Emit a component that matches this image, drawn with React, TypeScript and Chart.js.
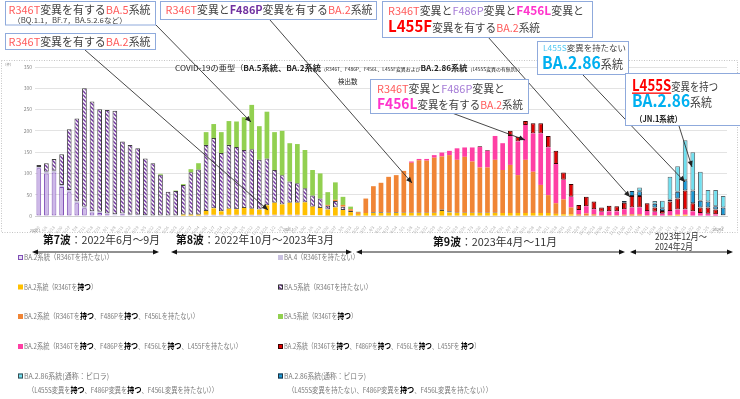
import React, { useEffect, useRef } from "react";
import { Chart, registerables } from "chart.js";
Chart.register(...registerables);

// ---- week labels (x axis) ----
const weekLabels = [
  "5/30", "6/6", "6/13", "6/20", "6/27", "7/4", "7/11", "7/18", "7/25", "8/1",
  "8/8", "8/15", "8/22", "8/29", "9/5", "9/12", "9/19", "9/26", "10/3", "10/10",
  "10/17", "10/24", "10/31", "11/7", "11/14", "11/21", "11/28", "12/5", "12/12", "12/19",
  "12/26", "1/2", "1/9", "1/16", "1/23", "1/30", "2/6", "2/13", "2/20", "2/27",
  "3/6", "3/13", "3/20", "3/27", "4/3", "4/10", "4/17", "4/24", "5/1", "5/8",
  "5/15", "5/22", "5/29", "6/5", "6/12", "6/19", "6/26", "7/3", "7/10", "7/17",
  "7/24", "7/31", "8/7", "8/14", "8/21", "8/28", "9/4", "9/11", "9/18", "9/25",
  "10/2", "10/9", "10/16", "10/23", "10/30", "11/6", "11/13", "11/20", "11/27", "12/4",
  "12/11", "12/18", "12/25", "1/1", "1/8", "1/15", "1/22", "1/29", "2/5", "2/12",
  "2/19",
];

// ---- series values (weekly detections) ----
const ba2NoR346T = [
  112, 100, 102, 68, 56, 30, 18, 8, 7, 4,
  2, 4, 2, 2, 1, 1, 1, 1, 1, 1,
  1, 1, 3, 3, 3, 3, 3, 3, 3, 3,
  3, 3, 3, 3, 3, 2, 2, 2, 1, 1,
  1, 0, 0, 0, 0, 0, 0, 0, 0, 0,
  0, 0, 0, 0, 0, 0, 0, 0, 0, 0,
  0, 0, 0, 0, 0, 0, 0, 0, 0, 0,
  0, 0, 0, 0, 0, 0, 0, 0, 0, 0,
  0, 0, 0, 0, 0, 0, 0, 0, 0, 0,
  0,
];
const ba4 = [
  3, 4, 4, 5, 5, 4, 4, 3, 3, 2,
  2, 2, 1, 1, 1, 0, 0, 0, 0, 0,
  0, 0, 0, 0, 0, 0, 0, 0, 0, 0,
  0, 0, 0, 0, 0, 0, 0, 0, 0, 0,
  0, 0, 0, 0, 0, 0, 0, 0, 0, 0,
  0, 0, 0, 0, 0, 0, 0, 0, 0, 0,
  0, 0, 0, 0, 0, 0, 0, 0, 0, 0,
  0, 0, 0, 0, 0, 0, 0, 0, 0, 0,
  0, 0, 0, 0, 0, 0, 0, 0, 0, 0,
  0,
];
const ba2R346T = [
  0, 0, 0, 0, 0, 0, 0, 0, 0, 0,
  0, 0, 0, 0, 0, 0, 0, 0, 0, 2,
  2, 2, 9, 15, 8, 14, 13, 16, 14, 12,
  22, 28, 24, 28, 28, 30, 20, 17, 14, 19,
  13, 9, 5, 7, 7, 7, 7, 7, 7, 7,
  7, 7, 7, 12, 8, 7, 7, 7, 7, 7,
  7, 7, 7, 7, 7, 7, 7, 7, 5, 4,
  4, 1, 1, 1, 0, 0, 0, 0, 0, 0,
  0, 0, 0, 0, 3, 3, 1, 0, 0, 0,
  0,
];
const ba5NoR346T = [
  5, 20, 28, 72, 143, 195, 278, 258, 241, 243,
  243, 169, 164, 156, 133, 123, 96, 56, 58, 70,
  100, 106, 155, 165, 137, 150, 146, 136, 140, 117,
  110, 77, 69, 50, 46, 33, 26, 22, 9, 15,
  8, 3, 0, 0, 2, 2, 1, 2, 1, 1,
  1, 1, 1, 3, 3, 1, 1, 1, 1, 1,
  1, 0, 0, 0, 0, 0, 0, 0, 0, 0,
  0, 0, 0, 0, 0, 0, 0, 0, 0, 0,
  0, 0, 0, 0, 0, 0, 0, 0, 0, 0,
  0,
];
const ba2F486P = [
  0, 0, 0, 0, 0, 0, 0, 0, 0, 0,
  0, 0, 0, 0, 0, 0, 0, 0, 0, 0,
  0, 0, 0, 0, 0, 0, 0, 0, 0, 0,
  0, 0, 0, 0, 0, 0, 0, 0, 2, 3,
  4, 4, 4, 34, 61, 69, 84, 87, 98, 117,
  123, 122, 129, 125, 132, 124, 131, 120, 106, 106,
  124, 101, 113, 89, 125, 97, 66, 42, 25, 35,
  16, 3, 5, 3, 2, 2, 2, 3, 4, 4,
  2, 2, 1, 2, 0, 0, 0, 0, 0, 0,
  0,
];
const ba5R346T = [
  0, 0, 0, 0, 0, 0, 0, 0, 0, 0,
  0, 0, 0, 0, 0, 0, 2, 0, 1, 2,
  7, 15, 30, 33, 49, 56, 60, 77, 104, 79,
  110, 89, 104, 90, 92, 90, 60, 59, 30, 41,
  19, 6, 1, 0, 0, 0, 0, 0, 0, 0,
  0, 0, 0, 0, 0, 0, 0, 0, 0, 0,
  0, 0, 0, 0, 0, 0, 0, 0, 0, 0,
  0, 0, 0, 0, 0, 0, 0, 0, 0, 0,
  0, 0, 0, 0, 0, 0, 0, 0, 0, 0,
  0,
];
const ba2F456L = [
  0, 0, 0, 0, 0, 0, 0, 0, 0, 0,
  0, 0, 0, 0, 0, 0, 0, 0, 0, 0,
  0, 0, 0, 0, 0, 0, 0, 0, 0, 0,
  0, 0, 0, 0, 0, 0, 0, 0, 0, 0,
  0, 0, 0, 0, 0, 0, 0, 0, 0, 3,
  3, 4, 6, 9, 10, 27, 22, 33, 48, 39,
  56, 63, 68, 79, 82, 90, 121, 112, 92, 46,
  25, 10, 17, 12, 8, 9, 9, 13, 16, 16,
  10, 8, 4, 10, 12, 12, 10, 7, 5, 4,
  0,
];
const ba2L455F = [
  0, 0, 0, 0, 0, 0, 0, 0, 0, 0,
  0, 0, 0, 0, 0, 0, 0, 0, 0, 0,
  0, 0, 0, 0, 0, 0, 0, 0, 0, 0,
  0, 0, 0, 0, 0, 0, 0, 0, 0, 0,
  0, 0, 0, 0, 0, 0, 0, 0, 0, 0,
  0, 0, 0, 0, 0, 0, 0, 0, 2, 2,
  0, 0, 12, 11, 9, 24, 24, 27, 31, 17,
  30, 12, 22, 18, 10, 13, 12, 15, 27, 27,
  18, 10, 7, 22, 26, 45, 19, 13, 15, 11,
  2,
];
const ba286NoL455S = [
  0, 0, 0, 0, 0, 0, 0, 0, 0, 0,
  0, 0, 0, 0, 0, 0, 0, 0, 0, 0,
  0, 0, 0, 0, 0, 0, 0, 0, 0, 0,
  0, 0, 0, 0, 0, 0, 0, 0, 0, 0,
  0, 0, 0, 0, 0, 0, 0, 0, 0, 0,
  0, 0, 0, 0, 0, 0, 0, 0, 0, 0,
  0, 0, 0, 0, 0, 0, 0, 0, 0, 0,
  0, 0, 0, 0, 0, 0, 0, 4, 12, 11,
  0, 9, 6, 4, 16, 24, 30, 16, 14, 8,
  18,
];
const ba286L455S = [
  0, 0, 0, 0, 0, 0, 0, 0, 0, 0,
  0, 0, 0, 0, 0, 0, 0, 0, 0, 0,
  0, 0, 0, 0, 0, 0, 0, 0, 0, 0,
  0, 0, 0, 0, 0, 0, 0, 0, 0, 0,
  0, 0, 0, 0, 0, 0, 0, 0, 0, 0,
  0, 0, 0, 0, 0, 0, 0, 0, 0, 0,
  0, 0, 0, 0, 0, 0, 0, 0, 0, 0,
  0, 0, 0, 0, 0, 0, 0, 0, 0, 9,
  0, 6, 18, 54, 60, 94, 90, 68, 27, 38,
  27,
];

const yTicks = [0, 50, 100, 150, 200, 250, 300, 350];

const FONT = '"Noto Sans CJK JP","Noto Sans",sans-serif';
const SALMON = "#FF5B5B";
const DARK = "#404040";
const PURPLE = "#7030A0";
const LPURPLE = "#A57BD6";
const PINK = "#FF33CC";
const RED = "#FF0000";
const CYAN = "#00B0F0";

type Seg = { t: string; c?: string; s?: number; b?: boolean; u?: boolean };

function drawRich(
  ctx: CanvasRenderingContext2D,
  x: number,
  y: number,
  segs: Seg[],
  size: number,
  color: string,
  width?: number
) {
  ctx.save();
  const ws = segs.map((sg) => {
    ctx.font = `${sg.b ? "bold " : ""}${sg.s ?? size}px ${FONT}`;
    return ctx.measureText(sg.t).width;
  });
  const total = ws.reduce((a, b) => a + b, 0);
  const sx = width ? width / total : 1;
  ctx.translate(x, y);
  ctx.scale(sx, 1);
  ctx.textAlign = "left";
  ctx.textBaseline = "alphabetic";
  let cx = 0;
  segs.forEach((sg, i) => {
    ctx.font = `${sg.b ? "bold " : ""}${sg.s ?? size}px ${FONT}`;
    ctx.fillStyle = sg.c ?? color;
    ctx.fillText(sg.t, cx, 0);
    if (sg.u) ctx.fillRect(cx, 2, ws[i], 1.3);
    cx += ws[i];
  });
  ctx.restore();
}

function arrowLine(ctx: CanvasRenderingContext2D, x1: number, y1: number, x2: number, y2: number) {
  ctx.save();
  ctx.strokeStyle = "#333";
  ctx.fillStyle = "#222";
  ctx.lineWidth = 0.9;
  ctx.beginPath();
  ctx.moveTo(x1, y1);
  ctx.lineTo(x2, y2);
  ctx.stroke();
  const a = Math.atan2(y2 - y1, x2 - x1);
  const L = 6, W = 2.6;
  ctx.beginPath();
  ctx.moveTo(x2, y2);
  ctx.lineTo(x2 - L * Math.cos(a) + W * Math.sin(a), y2 - L * Math.sin(a) - W * Math.cos(a));
  ctx.lineTo(x2 - L * Math.cos(a) - W * Math.sin(a), y2 - L * Math.sin(a) + W * Math.cos(a));
  ctx.closePath();
  ctx.fill();
  ctx.restore();
}

function dblArrow(ctx: CanvasRenderingContext2D, x1: number, x2: number, y: number) {
  ctx.save();
  ctx.strokeStyle = "#222";
  ctx.fillStyle = "#111";
  ctx.lineWidth = 1;
  ctx.beginPath();
  ctx.moveTo(x1 + 3, y);
  ctx.lineTo(x2 - 3, y);
  ctx.stroke();
  ctx.beginPath();
  ctx.moveTo(x1, y);
  ctx.lineTo(x1 + 6, y - 2.6);
  ctx.lineTo(x1 + 6, y + 2.6);
  ctx.closePath();
  ctx.fill();
  ctx.beginPath();
  ctx.moveTo(x2, y);
  ctx.lineTo(x2 - 6, y - 2.6);
  ctx.lineTo(x2 - 6, y + 2.6);
  ctx.closePath();
  ctx.fill();
  ctx.restore();
}

function box(ctx: CanvasRenderingContext2D, x: number, y: number, w: number, h: number) {
  ctx.save();
  ctx.fillStyle = "#fff";
  ctx.fillRect(x, y, w, h);
  ctx.strokeStyle = "#8FAADC";
  ctx.lineWidth = 1;
  ctx.strokeRect(x, y, w, h);
  ctx.restore();
}

const MOTSU: Seg = { t: "持つ", b: true, c: "#000", s: 8.5 };

export default function App() {
  const ref = useRef<HTMLCanvasElement>(null);

  useEffect(() => {
    const canvas = ref.current!;
    const ctx0 = canvas.getContext("2d")!;
    const tile = document.createElement("canvas");
    tile.width = 4;
    tile.height = 4;
    const tg = tile.getContext("2d")!;
    tg.fillStyle = "#fff";
    tg.fillRect(0, 0, 4, 4);
    tg.strokeStyle = PURPLE;
    tg.lineWidth = 1.4;
    tg.beginPath();
    tg.moveTo(-1, -1);
    tg.lineTo(5, 5);
    tg.moveTo(-1, 3);
    tg.lineTo(1, 5);
    tg.moveTo(3, -1);
    tg.lineTo(5, 1);
    tg.stroke();
    const hatch = ctx0.createPattern(tile, "repeat")!;

    const series = [
      { label: "BA.2系統（R346Tを持たない）", data: ba2NoR346T, bg: "#CDB8E8", bc: "#7F4FB5", bw: 1 },
      { label: "BA.4（R346Tを持たない）", data: ba4, bg: "#C9C1E0", bc: "#C9C1E0", bw: 0 },
      { label: "BA.2系統（R346Tを持つ）", data: ba2R346T, bg: "#FFC000", bc: "#FFC000", bw: 0 },
      { label: "BA.5系統（R346Tを持たない）", data: ba5NoR346T, bg: hatch, bc: "#404040", bw: 1 },
      { label: "BA.2系統（R346T・F486Pを持つ）", data: ba2F486P, bg: "#F08536", bc: "#F08536", bw: 0 },
      { label: "BA.5系統（R346Tを持つ）", data: ba5R346T, bg: "#92D050", bc: "#92D050", bw: 0 },
      { label: "BA.2系統（F456Lを持つ）", data: ba2F456L, bg: "#FF3FA4", bc: "#FF3FA4", bw: 0 },
      { label: "BA.2系統（L455Fを持つ）", data: ba2L455F, bg: "#E00000", bc: "#3A0000", bw: 1 },
      { label: "BA.2.86系統（L455Sを持たない）", data: ba286NoL455S, bg: "#1C9AD6", bc: "#1F3040", bw: 1 },
      { label: "BA.2.86系統（L455Sを持つ）", data: ba286L455S, bg: "#6FE0F0", bc: "#5A6A70", bw: 1 },
    ];

    const overlay = {
      id: "overlay",
      afterDraw(chart: any) {
        const ctx: CanvasRenderingContext2D = chart.ctx;
        // dotted frame
        ctx.save();
        ctx.strokeStyle = "#c4c4c4";
        ctx.setLineDash([1, 1.5]);
        ctx.lineWidth = 1;
        ctx.strokeRect(1.5, 60.5, 736, 172);
        ctx.restore();

        // chart title
        drawRich(ctx, 175, 71, [
          { t: "COVID-19の亜型（" },
          { t: "BA.5系統、BA.2系統", b: true },
          { t: "（R346T、F486P、F456L、L455F変異および", s: 4.5 },
          { t: "BA.2.86系統", b: true },
          { t: "（L455S変異の有無別））", s: 4.5 },
        ], 7.5, "#222", 348);
        drawRich(ctx, 338, 84, [{ t: "検出数" }], 6.5, "#222");
        drawRich(ctx, 3, 66, [{ t: "（件）" }], 3.5, "#888");

        // year markers under the x axis
        drawRich(ctx, 30, 232, [{ t: "2022.1" }], 3.5, "#888");
        drawRich(ctx, 283, 231, [{ t: "2023.1" }], 3.5, "#888");
        drawRich(ctx, 713, 231, [{ t: "2024.1" }], 3.5, "#888");

        // callout leader arrows
        arrowLine(ctx, 85, 50, 268, 210);
        arrowLine(ctx, 156, 25, 251, 122);
        arrowLine(ctx, 270, 20, 412, 183);
        arrowLine(ctx, 488, 37, 630, 197);
        arrowLine(ctx, 452, 113, 525, 140);
        arrowLine(ctx, 583, 75, 685, 182);
        arrowLine(ctx, 679, 126, 692, 167);

        // callout boxes
        box(ctx, 5.5, 1.5, 150, 23.5);
        drawRich(ctx, 8.5, 13.5, [
          { t: "R346T", c: SALMON }, { t: "変異を有する" }, { t: "BA.5", c: SALMON }, { t: "系統" },
        ], 11, DARK, 142);
        drawRich(ctx, 13, 22.5, [{ t: "（BQ.1.1，BF.7，BA.5.2.6など）" }], 7, DARK, 114);

        box(ctx, 5.5, 33.5, 150, 16);
        drawRich(ctx, 8.5, 45.5, [
          { t: "R346T", c: SALMON }, { t: "変異を有する" }, { t: "BA.2", c: SALMON }, { t: "系統" },
        ], 11, DARK, 142);

        box(ctx, 160.5, 1.5, 216, 18);
        drawRich(ctx, 165.5, 14, [
          { t: "R346T", c: SALMON }, { t: "変異と" }, { t: "F486P", c: PURPLE, b: true },
          { t: "変異を有する" }, { t: "BA.2", c: SALMON }, { t: "系統" },
        ], 11, DARK, 207);

        box(ctx, 382.5, 1.5, 210, 36);
        drawRich(ctx, 388, 14.5, [
          { t: "R346T", c: SALMON }, { t: "変異と" }, { t: "F486P", c: LPURPLE }, { t: "変異と" },
          { t: "F456L", c: PINK, b: true, s: 12 }, { t: "変異と" },
        ], 11, DARK, 196);
        drawRich(ctx, 388, 32, [
          { t: "L455F", c: RED, b: true, s: 15.5 }, { t: "変異を有する" }, { t: "BA.2", c: SALMON }, { t: "系統" },
        ], 11, DARK, 152);

        box(ctx, 537.5, 41.5, 91, 33);
        drawRich(ctx, 543, 51, [{ t: "L455S", c: "#55C8F2" }, { t: "変異を持たない" }], 8, DARK, 83);
        drawRich(ctx, 542, 69, [{ t: "BA.2.86", c: CYAN, b: true, s: 17 }, { t: "系統", s: 12 }], 12, DARK, 81);

        box(ctx, 370.5, 79.5, 158, 34);
        drawRich(ctx, 377, 92.5, [
          { t: "R346T", c: SALMON }, { t: "変異と" }, { t: "F486P", c: LPURPLE }, { t: "変異と" },
        ], 11, DARK, 128);
        drawRich(ctx, 377, 109, [
          { t: "F456L", c: PINK, b: true, s: 14.5 }, { t: "変異を有する" }, { t: "BA.2", c: SALMON }, { t: "系統" },
        ], 11, DARK, 146);

        box(ctx, 625.5, 73.5, 118, 52);
        drawRich(ctx, 632, 90.5, [
          { t: "L455S", c: RED, b: true, s: 15.5, u: true }, { t: "変異を持つ" },
        ], 11, DARK, 86);
        drawRich(ctx, 632, 107, [{ t: "BA.2.86", c: CYAN, b: true, s: 17 }, { t: "系統", s: 12 }], 12, DARK, 80);
        drawRich(ctx, 635, 121.5, [{ t: "（JN.1系統）", b: true }], 8.5, "#222", 47);

        // waves
        drawRich(ctx, 43, 244, [{ t: "第7波", b: true, c: "#111" }, { t: "：2022年6月～9月" }], 11, "#333", 117);
        drawRich(ctx, 176, 244, [{ t: "第8波", b: true, c: "#111" }, { t: "：2022年10月～2023年3月" }], 11, "#333", 158);
        drawRich(ctx, 433, 246, [{ t: "第9波", b: true, c: "#111" }, { t: "：2023年4月～11月" }], 11, "#333", 124);
        drawRich(ctx, 655, 239.5, [{ t: "2023年12月～" }], 9, "#333", 52);
        drawRich(ctx, 655, 250, [{ t: "2024年2月" }], 9, "#333", 38);
        dblArrow(ctx, 32, 159, 252);
        dblArrow(ctx, 171, 352, 252);
        dblArrow(ctx, 356, 625, 252);
        dblArrow(ctx, 630, 733, 252);

        // legend
        const G = "#7a7a7a";
        const icon = (x: number, yc: number, fill: any, stroke?: string) => {
          ctx.save();
          ctx.fillStyle = fill;
          ctx.fillRect(x, yc - 2.5, 5, 5);
          if (stroke) {
            ctx.strokeStyle = stroke;
            ctx.lineWidth = 1;
            ctx.strokeRect(x + 0.5, yc - 2, 4, 4);
          }
          ctx.restore();
        };
        const rows = [257.5, 287, 316.5, 346.5, 376];
        icon(18, rows[0], "#E6DCF4", "#7F4FB5");
        drawRich(ctx, 24, rows[0] + 2.6, [{ t: "BA.2系統（R346Tを持たない）" }], 7.5, G, 89);
        icon(18, rows[1], "#FFC000");
        drawRich(ctx, 24, rows[1] + 2.6, [{ t: "BA.2系統（R346Tを" }, MOTSU, { t: "）" }], 7.5, G, 73);
        icon(18, rows[2], "#F08536");
        drawRich(ctx, 24, rows[2] + 2.6, [
          { t: "BA.2系統（R346Tを" }, MOTSU, { t: "、F486Pを" }, MOTSU, { t: "、F456Lを持たない）" },
        ], 7.5, G, 175);
        icon(18, rows[3], "#FF3FA4");
        drawRich(ctx, 24, rows[3] + 2.6, [
          { t: "BA.2系統（R346Tを" }, MOTSU, { t: "、F486Pを" }, MOTSU, { t: "、F456Lを" }, MOTSU,
          { t: "、L455Fを持たない）" },
        ], 7.5, G, 218);
        icon(18, rows[4], "#6FE0F0", "#3a4a50");
        drawRich(ctx, 24, rows[4] + 2.6, [{ t: "BA.2.86系統(通称：ピロラ)" }], 7.5, G, 85);
        drawRich(ctx, 28, 393, [
          { t: "（L455S変異を" }, MOTSU, { t: "、F486P変異を" }, MOTSU, { t: "、F456L変異を持たない））" },
        ], 7.5, G, 190);

        icon(278, rows[0], "#C9C1E0");
        drawRich(ctx, 284, rows[0] + 2.6, [{ t: "BA.4（R346Tを持たない）" }], 7.5, G, 75);
        icon(278, rows[1], hatch, "#303030");
        drawRich(ctx, 284, rows[1] + 2.6, [{ t: "BA.5系統（R346Tを持たない）" }], 7.5, G, 88);
        icon(278, rows[2], "#92D050");
        drawRich(ctx, 284, rows[2] + 2.6, [{ t: "BA.5系統（R346Tを" }, MOTSU, { t: "）" }], 7.5, G, 73);
        icon(278, rows[3], "#E00000", "#3A0000");
        drawRich(ctx, 284, rows[3] + 2.6, [
          { t: "BA.2系統（R346Tを" }, MOTSU, { t: "、F486Pを" }, MOTSU, { t: "、F456Lを" }, MOTSU,
          { t: "、L455Fを " }, MOTSU, { t: "）" },
        ], 7.5, G, 196);
        icon(278, rows[4], "#1C9AD6", "#1F3040");
        drawRich(ctx, 284, rows[4] + 2.6, [{ t: "BA.2.86系統(通称：ピロラ)" }], 7.5, G, 82);
        drawRich(ctx, 288, 393, [
          { t: "（L455S変異を持たない、F486P変異を" }, MOTSU, { t: "、F456L変異を持たない））" },
        ], 7.5, G, 204);
      },
    };

    const chart = new Chart(canvas, {
      type: "bar",
      data: {
        labels: weekLabels,
        datasets: series.map((s) => ({
          label: s.label,
          data: s.data,
          backgroundColor: s.bg,
          borderColor: s.bc,
          borderWidth: s.bw,
          borderSkipped: false,
          barPercentage: 0.62,
          categoryPercentage: 1,
        })),
      },
      options: {
        animation: false,
        responsive: false,
        devicePixelRatio: 1,
        layout: { padding: { left: 0, right: 13, top: 67, bottom: 0 } },
        plugins: {
          legend: { display: false },
          tooltip: { enabled: false },
          title: { display: false },
        },
        scales: {
          x: {
            stacked: true,
            grid: { display: false },
            border: { display: true, color: "#d0d0d0" },
            ticks: {
              autoSkip: false,
              minRotation: 50,
              maxRotation: 50,
              padding: 1,
              color: "#aaa",
              font: { size: 4, family: FONT },
            },
            afterFit: (s: any) => {
              s.height = 183;
            },
          },
          y: {
            stacked: true,
            min: 0,
            max: 350,
            afterBuildTicks: (s: any) => {
              s.ticks = yTicks.map((v) => ({ value: v }));
            },
            ticks: { color: "#888", padding: 3, font: { size: 5, family: FONT } },
            grid: { color: "#dcdcdc", drawTicks: false, lineWidth: 0.8 },
            border: { display: false },
            afterFit: (s: any) => {
              s.width = 35;
            },
          },
        },
      },
      plugins: [overlay],
    } as any);
    return () => chart.destroy();
  }, []);

  return (
    <div style={{ position: "absolute", left: 0, top: 0, width: 740, height: 399, background: "#fff" }}>
      <canvas ref={ref} width={740} height={399} style={{ display: "block", width: 740, height: 399 }} />
    </div>
  );
}
